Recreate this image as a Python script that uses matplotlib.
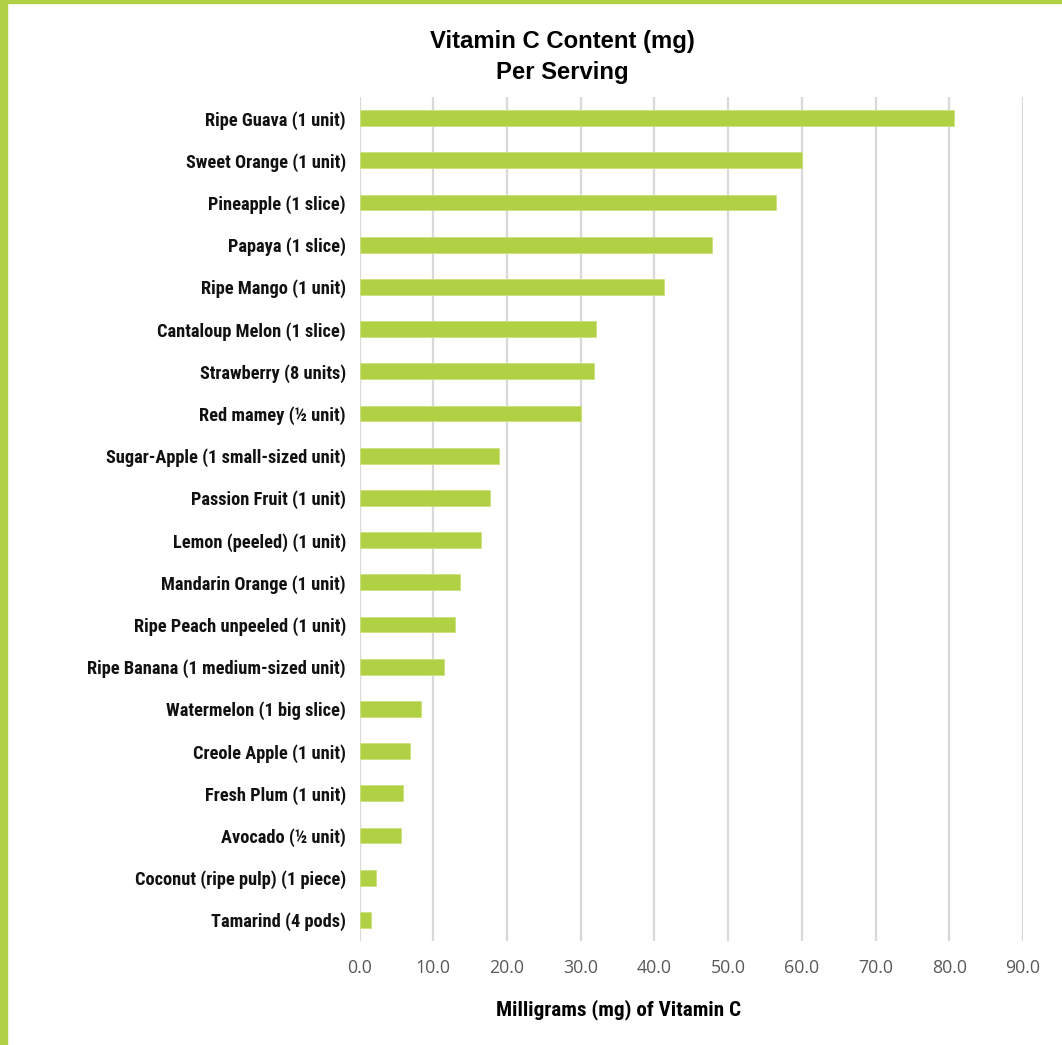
import matplotlib
matplotlib.use("Agg")
import matplotlib.pyplot as plt
from matplotlib import font_manager
from matplotlib.patches import Rectangle

fruits = [
    "Ripe Guava (1 unit)",
    "Sweet Orange (1 unit)",
    "Pineapple (1 slice)",
    "Papaya (1 slice)",
    "Ripe Mango (1 unit)",
    "Cantaloup Melon (1 slice)",
    "Strawberry (8 units)",
    "Red mamey (½ unit)",
    "Sugar-Apple (1 small-sized unit)",
    "Passion Fruit (1 unit)",
    "Lemon (peeled) (1 unit)",
    "Mandarin Orange (1 unit)",
    "Ripe Peach unpeeled (1 unit)",
    "Ripe Banana (1 medium-sized unit)",
    "Watermelon (1 big slice)",
    "Creole Apple (1 unit)",
    "Fresh Plum (1 unit)",
    "Avocado (½ unit)",
    "Coconut (ripe pulp) (1 piece)",
    "Tamarind (4 pods)",
]
vitamin_c = [80.6, 60.0, 56.5, 47.8, 41.3, 32.1, 31.8, 30.0, 18.9, 17.7,
             16.5, 13.6, 13.0, 11.5, 8.4, 6.9, 5.9, 5.6, 2.2, 1.6]
xticks = [0, 10, 20, 30, 40, 50, 60, 70, 80, 90]

green = "#AFD143"

# condensed bold font if one is installed, otherwise plain Liberation Sans a bit smaller
candidates = [("Liberation Sans Narrow", 13.6, 15.7),
              ("Roboto Condensed", 13.2, 15.2),
              ("DejaVu Sans Condensed", 11.8, 13.6),
              ("Liberation Sans", 11.1, 12.8)]
narrow, ysize, xlsize = "Liberation Sans", 11.1, 12.8
for name, s1, s2 in candidates:
    try:
        font_manager.findfont(font_manager.FontProperties(family=name, weight="bold"),
                              fallback_to_default=False)
        narrow, ysize, xlsize = name, s1, s2
        break
    except ValueError:
        pass
narrow_list = [narrow, "DejaVu Sans"]

fig = plt.figure(figsize=(10.62, 10.45), dpi=100)
ax = fig.add_axes([359.5 / 1062, 1 - 941 / 1045, (1023 - 359.5) / 1062, (941 - 97) / 1045])

ypos = list(range(len(fruits)))
ax.barh(ypos, vitamin_c, height=0.37, color=green, edgecolor="#C9E07F", linewidth=0.6, zorder=3)
ax.set_ylim(len(fruits) - 0.5, -0.5)
ax.set_xlim(0, 90)

ax.set_xticks(xticks)
ax.set_xticklabels([f"{v:.1f}" for v in xticks], fontfamily="Open Sans", fontsize=12.8, color="#595959")
ax.set_yticks(ypos)
ax.set_yticklabels(fruits, fontfamily=narrow_list, fontweight="bold", fontsize=ysize, color="#111111")
ax.tick_params(axis="both", length=0)
ax.tick_params(axis="x", pad=13)
ax.tick_params(axis="y", pad=9.7)

ax.grid(axis="x", color="#D9D9D9", linewidth=1.6, zorder=0)
for s in ax.spines.values():
    s.set_visible(False)

fig.text(562 / 1062, 1 - 42 / 1045, "Vitamin C Content (mg)", ha="center", va="center",
         fontfamily="Liberation Sans", fontweight="bold", fontsize=17.2)
fig.text(562 / 1062, 1 - 72 / 1045, "Per Serving", ha="center", va="center",
         fontfamily="Liberation Sans", fontweight="bold", fontsize=17.2)
fig.text(619 / 1062, 1 - 1010 / 1045, "Milligrams (mg) of Vitamin C", ha="center", va="center",
         fontfamily=narrow_list, fontweight="bold", fontsize=xlsize)

# green frame on left and top
fig.patches.append(Rectangle((0, 0), 7 / 1062, 1, transform=fig.transFigure, color=green, zorder=5))
fig.patches.append(Rectangle((0, 1 - 3 / 1045), 1, 3 / 1045, transform=fig.transFigure, color=green, zorder=5))

fig.savefig("out.png", dpi=100)
